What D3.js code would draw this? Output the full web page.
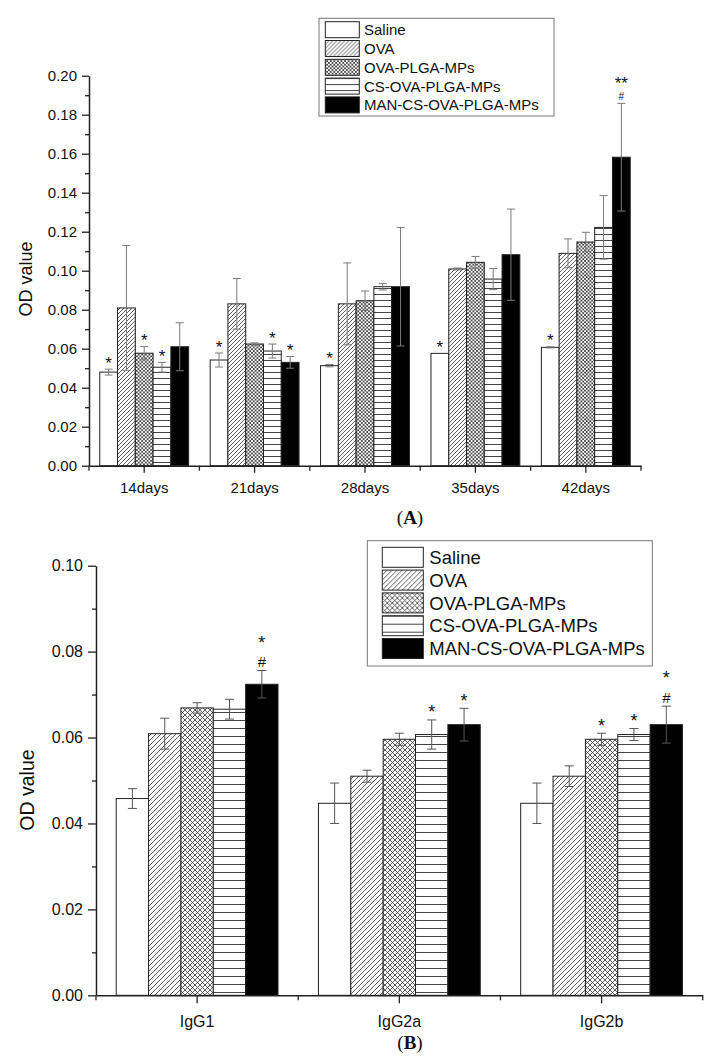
<!DOCTYPE html>
<html>
<head>
<meta charset="utf-8">
<script src="https://cdn.jsdelivr.net/npm/d3@7"></script>
<style>
  html, body { margin: 0; padding: 0; background: #ffffff; }
  svg { display: block; }
  text { font-family: "Liberation Sans", Arial, sans-serif; fill: #111; }
</style>
</head>
<body>
<div id="chart"></div>
<script>
// ---------------- DATA ----------------
const seriesNames = ["Saline", "OVA", "OVA-PLGA-MPs", "CS-OVA-PLGA-MPs", "MAN-CS-OVA-PLGA-MPs"];

// Panel A
const daysCats = ["14days", "21days", "28days", "35days", "42days"];
const salineA   = [0.0480, 0.0542, 0.0513, 0.0576, 0.0607];
const ovaA      = [0.0809, 0.0830, 0.0830, 0.1009, 0.1089];
const ovaPlgaA  = [0.0577, 0.0624, 0.0846, 0.1043, 0.1147];
const csA       = [0.0505, 0.0588, 0.0918, 0.0957, 0.1222];
const manA      = [0.0610, 0.0530, 0.0918, 0.1082, 0.1582];
const salineErrA  = [0.0015, 0.0036, 0.0006, 0.0000, 0.0003];
const ovaErrA     = [0.0320, 0.0130, 0.0210, 0.0005, 0.0074];
const ovaPlgaErrA = [0.0034, 0.0006, 0.0050, 0.0030, 0.0050];
const csErrA      = [0.0025, 0.0036, 0.0017, 0.0054, 0.0163];
const manErrA     = [0.0123, 0.0030, 0.0304, 0.0234, 0.0276];
const starsA = [["*","","*","*",""],["*","","","*","*"],["*","","","",""],["*","","","",""],["*","","","","**"]];
const hashA  = [[0,0,0,0,0],[0,0,0,0,0],[0,0,0,0,0],[0,0,0,0,0],[0,0,0,0,1]];
const yTicksA = [0, 0.02, 0.04, 0.06, 0.08, 0.10, 0.12, 0.14, 0.16, 0.18, 0.20];
const yMinorA = [0.01, 0.03, 0.05, 0.07, 0.09, 0.11, 0.13, 0.15, 0.17, 0.19];

// Panel B
const igCats = ["IgG1", "IgG2a", "IgG2b"];
const salineB   = [0.0458, 0.0447, 0.0447];
const ovaB      = [0.0609, 0.0510, 0.0510];
const ovaPlgaB  = [0.0669, 0.0596, 0.0596];
const csB       = [0.0666, 0.0607, 0.0607];
const manB      = [0.0724, 0.0630, 0.0630];
const salineErrB  = [0.0023, 0.0047, 0.0047];
const ovaErrB     = [0.0036, 0.0014, 0.0024];
const ovaPlgaErrB = [0.0012, 0.0014, 0.0014];
const csErrB      = [0.0023, 0.0034, 0.0014];
const manErrB     = [0.0032, 0.0038, 0.0043];
const starsB = [["","","","","*"],["","","","*","*"],["","","*","*","*"]];
const hashB  = [[0,0,0,0,1],[0,0,0,0,0],[0,0,0,0,1]];
const yTicksB = [0, 0.02, 0.04, 0.06, 0.08, 0.10];
const yMinorB = [0.01, 0.03, 0.05, 0.07, 0.09];

// ---------------- CHART ----------------
const W = 712, H = 1064;
const svg = d3.select("#chart").append("svg").attr("width", W).attr("height", H);
svg.append("rect").attr("width", W).attr("height", H).attr("fill", "#fff");
const defs = svg.append("defs");

function makePatterns(id, diag, cross, horiz) {
  const p1 = defs.append("pattern").attr("id", "diag" + id).attr("patternUnits", "userSpaceOnUse")
    .attr("width", diag).attr("height", diag);
  p1.append("rect").attr("width", diag).attr("height", diag).attr("fill", "#fff");
  p1.append("path").attr("d", `M0,${diag} L${diag},0 M-1,1 L1,-1 M${diag-1},${diag+1} L${diag+1},${diag-1}`)
    .attr("stroke", "#333").attr("stroke-width", 0.8);
  const p2 = defs.append("pattern").attr("id", "cross" + id).attr("patternUnits", "userSpaceOnUse")
    .attr("width", cross).attr("height", cross);
  p2.append("rect").attr("width", cross).attr("height", cross).attr("fill", "#fff");
  p2.append("path").attr("d", `M0,${cross} L${cross},0 M-1,1 L1,-1 M${cross-1},${cross+1} L${cross+1},${cross-1} M0,0 L${cross},${cross} M-1,${cross-1} L1,${cross+1} M${cross-1},-1 L${cross+1},1`)
    .attr("stroke", "#333").attr("stroke-width", 0.8);
  const p3 = defs.append("pattern").attr("id", "horiz" + id).attr("patternUnits", "userSpaceOnUse")
    .attr("width", 10).attr("height", horiz);
  p3.append("rect").attr("width", 10).attr("height", horiz).attr("fill", "#fff");
  p3.append("line").attr("x1", 0).attr("x2", 10).attr("y1", 0.5).attr("y2", 0.5)
    .attr("stroke", "#444").attr("stroke-width", 1);
  return ["#fff", `url(#diag${id})`, `url(#cross${id})`, `url(#horiz${id})`, "#000"];
}

function drawPanel(cfg) {
  const g = svg.append("g");
  const fills = makePatterns(cfg.id, cfg.diag, cfg.cross, cfg.horiz);

  const x = d3.scaleBand().domain(cfg.cats).range([cfg.x0, cfg.x1]).paddingInner(0).paddingOuter(0);
  const gap = x.bandwidth() * cfg.groupGap;
  const xs = d3.scaleBand().domain(seriesNames).range([gap / 2, x.bandwidth() - gap / 2]);
  const y = d3.scaleLinear().domain(cfg.yDomain).range([cfg.y0, cfg.y1]);

  const rows = [];
  cfg.cats.forEach((c, i) => {
    seriesNames.forEach((s, j) => {
      rows.push({ cat: c, ser: s, j: j, v: cfg.values[j][i], e: cfg.errs[j][i],
                  star: cfg.stars[i][j], hash: cfg.hash[i][j] });
    });
  });

  g.selectAll("rect.bar").data(rows).join("rect").attr("class", "bar")
    .attr("x", d => x(d.cat) + xs(d.ser))
    .attr("y", d => y(d.v))
    .attr("width", xs.bandwidth())
    .attr("height", d => y(0) - y(d.v))
    .attr("fill", d => fills[d.j])
    .attr("stroke", "#222").attr("stroke-width", 1);

  const eb = g.selectAll("g.err").data(rows.filter(d => d.e > 0)).join("g").attr("class", "err")
    .attr("stroke", cfg.errColor).attr("stroke-width", 1);
  const cx = d => x(d.cat) + xs(d.ser) + xs.bandwidth() / 2;
  eb.append("line").attr("x1", cx).attr("x2", cx).attr("y1", d => y(d.v + d.e)).attr("y2", d => y(d.v - d.e));
  eb.append("line").attr("x1", d => cx(d) - cfg.cap).attr("x2", d => cx(d) + cfg.cap)
    .attr("y1", d => y(d.v + d.e)).attr("y2", d => y(d.v + d.e));
  eb.append("line").attr("x1", d => cx(d) - cfg.cap).attr("x2", d => cx(d) + cfg.cap)
    .attr("y1", d => y(d.v - d.e)).attr("y2", d => y(d.v - d.e));

  rows.forEach(d => {
    const top = y(d.v + d.e);
    const xc = cx(d);
    if (d.hash) {
      g.append("text").attr("x", xc).attr("y", top - cfg.hashGap + 0.36 * cfg.hashSize)
        .attr("text-anchor", "middle").attr("font-size", cfg.hashSize).text("#");
      g.append("text").attr("x", xc).attr("y", top - cfg.starGap2 + 0.57 * cfg.starSize)
        .attr("text-anchor", "middle").attr("font-size", cfg.starSize).text(d.star);
    } else if (d.star) {
      g.append("text").attr("x", xc).attr("y", top - cfg.starGap + 0.57 * cfg.starSize)
        .attr("text-anchor", "middle").attr("font-size", cfg.starSize).text(d.star);
    }
  });

  const ya = g.append("g").attr("transform", `translate(${cfg.x0},0)`)
    .call(d3.axisLeft(y).tickValues(cfg.yTicks).tickSize(cfg.majorTick).tickSizeOuter(0).tickPadding(5).tickFormat(d3.format(".2f")));
  ya.selectAll("text").attr("font-size", cfg.tickFont).attr("fill", "#111");
  ya.select(".domain").attr("stroke", "#222").attr("stroke-width", 1.5);
  ya.selectAll(".tick line").attr("stroke", "#222").attr("stroke-width", 1.3);
  const ym = g.append("g").attr("transform", `translate(${cfg.x0},0)`)
    .call(d3.axisLeft(y).tickValues(cfg.yMinor).tickSize(4).tickFormat(""));
  ym.select(".domain").remove();
  ym.selectAll(".tick line").attr("stroke", "#222").attr("stroke-width", 1.3);

  const xa = g.append("g").attr("transform", `translate(0,${cfg.y0})`)
    .call(d3.axisBottom(x).tickSize(cfg.majorTick).tickSizeOuter(0).tickPadding(cfg.xPad));
  xa.selectAll("text").attr("font-size", cfg.tickFont).attr("fill", "#111");
  xa.select(".domain").attr("stroke", "#222").attr("stroke-width", 1.5);
  xa.selectAll(".tick line").attr("stroke", "#222").attr("stroke-width", 1.3);
  const bounds = cfg.cats.map(c => x(c)).concat([x.range()[1]]);
  g.selectAll("line.bnd").data(bounds).join("line").attr("class", "bnd")
    .attr("x1", d => d).attr("x2", d => d).attr("y1", cfg.y0).attr("y2", cfg.y0 + 5)
    .attr("stroke", "#222").attr("stroke-width", 1.3);

  g.append("text").attr("transform", `translate(${cfg.titleX},${cfg.titleY}) rotate(-90)`)
    .attr("text-anchor", "middle").attr("font-size", cfg.titleFont).text("OD value");

  const L = cfg.legend;
  g.append("rect").attr("x", L.x).attr("y", L.y).attr("width", L.w).attr("height", L.h)
    .attr("fill", "#fff").attr("stroke", "#777").attr("stroke-width", 1);
  const li = g.selectAll("g.leg").data(seriesNames).join("g").attr("class", "leg")
    .attr("transform", (d, i) => `translate(${L.sx},${L.sy + i * L.step})`);
  li.append("rect").attr("width", L.sw).attr("height", L.sh)
    .attr("fill", (d, i) => fills[i]).attr("stroke", "#222").attr("stroke-width", 1);
  li.append("text").attr("x", L.tx - L.sx).attr("y", L.sh / 2).attr("dy", "0.36em")
    .attr("font-size", L.font).text(d => d);

  const cap = svg.append("text").attr("x", cfg.capX).attr("y", cfg.capY).attr("text-anchor", "middle")
    .style("font-family", '"Liberation Serif", "Times New Roman", serif').attr("font-size", 19);
  cap.append("tspan").text("(");
  cap.append("tspan").attr("font-weight", "bold").text(cfg.caption);
  cap.append("tspan").text(")");
}

drawPanel({
  id: "A", cats: daysCats,
  values: [salineA, ovaA, ovaPlgaA, csA, manA],
  errs: [salineErrA, ovaErrA, ovaPlgaErrA, csErrA, manErrA],
  stars: starsA, hash: hashA,
  x0: 89, x1: 641, y0: 465.7, y1: 75.7, yDomain: [0, 0.20], groupGap: 0.195,
  yTicks: yTicksA, yMinor: yMinorA,
  diag: 4, cross: 3.6, horiz: 6,
  errColor: "#7a7a7a", cap: 4,
  starSize: 17, starGap: 10, hashSize: 10, hashGap: 7, starGap2: 24,
  majorTick: 7, tickFont: 15, xPad: 10,
  titleX: 32, titleY: 279, titleFont: 18,
  legend: { x: 319, y: 18.3, w: 235, h: 97.7, sx: 325.3, sy: 21.7, sw: 34, sh: 16, step: 18.8, tx: 364, font: 15 },
  caption: "A", capX: 410, capY: 524
});

drawPanel({
  id: "B", cats: igCats,
  values: [salineB, ovaB, ovaPlgaB, csB, manB],
  errs: [salineErrB, ovaErrB, ovaPlgaErrB, csErrB, manErrB],
  stars: starsB, hash: hashB,
  x0: 96, x1: 702.7, y0: 995.3, y1: 565.7, yDomain: [0, 0.10], groupGap: 0.2,
  yTicks: yTicksB, yMinor: yMinorB,
  diag: 5, cross: 5, horiz: 8,
  errColor: "#555", cap: 4.5,
  starSize: 18, starGap: 12, hashSize: 15, hashGap: 9, starGap2: 32,
  majorTick: 8, tickFont: 16, xPad: 12,
  titleX: 34, titleY: 790, titleFont: 19.5,
  legend: { x: 367.3, y: 540.7, w: 285, h: 125.3, sx: 382.3, sy: 547.3, sw: 41, sh: 20, step: 22.8, tx: 429.3, font: 18.5 },
  caption: "B", capX: 410, capY: 1049
});
</script>
</body>
</html>
